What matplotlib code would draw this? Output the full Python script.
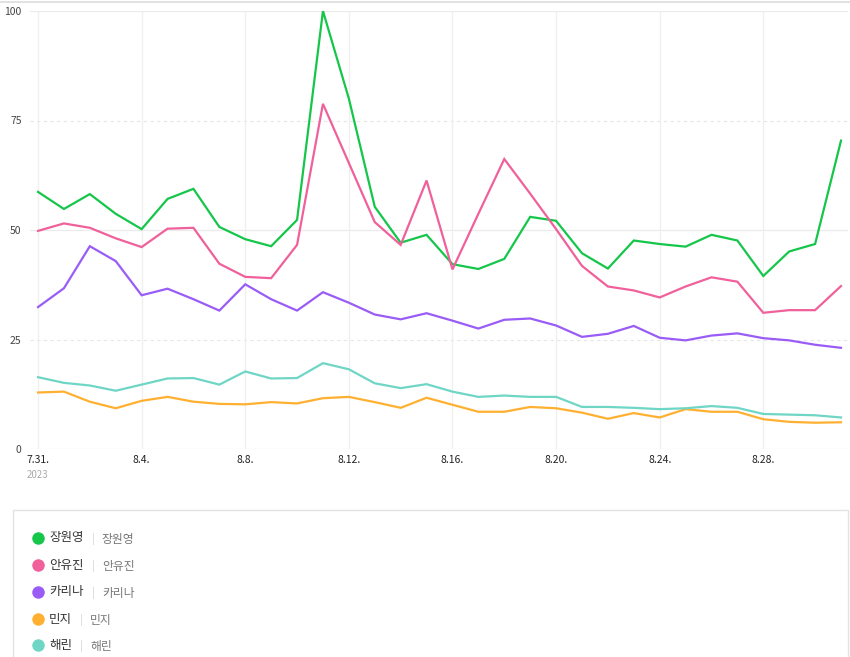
import matplotlib
matplotlib.use("Agg")
import matplotlib.pyplot as plt
import matplotlib.patches as mpatches
import numpy as np

plt.rcParams["font.family"] = ["Noto Sans CJK KR", "DejaVu Sans"]

# Dates 7.31 .. 8.31 (2023), one value per day
DAYS = ["7.31."] + [f"8.{d}." for d in range(1, 32)]
TICK_IDX = [0, 4, 8, 12, 16, 20, 24, 28]

NAMES = ["장원영", "안유진", "카리나", "민지", "해린"]
COLORS = ["#15c64a", "#f0609a", "#9a5cf6", "#ffb030", "#6fd6c6"]

wonyoung = [58.7, 54.8, 58.2, 53.7, 50.2, 57.1, 59.4, 50.7, 47.9, 46.3, 52.3,
            100.0, 80.0, 55.3, 47.1, 48.9, 42.2, 41.1, 43.4, 53.0, 52.1,
            44.7, 41.2, 47.6, 46.8, 46.2, 48.9, 47.6, 39.5, 45.1, 46.8, 70.4]
yujin = [49.8, 51.5, 50.5, 48.1, 46.1, 50.3, 50.5, 42.3, 39.3, 39.0, 46.6,
         78.8, 65.3, 51.8, 46.6, 61.3, 41.0, 53.7, 66.2, 58.3, 50.2,
         41.8, 37.1, 36.2, 34.6, 37.1, 39.2, 38.2, 31.1, 31.7, 31.7, 37.2]
karina = [32.4, 36.7, 46.3, 42.9, 35.1, 36.6, 34.2, 31.6, 37.6, 34.2, 31.6,
          35.8, 33.4, 30.7, 29.6, 31.0, 29.3, 27.5, 29.5, 29.8, 28.2,
          25.6, 26.3, 28.1, 25.4, 24.8, 25.9, 26.4, 25.3, 24.8, 23.8, 23.1]
minji = [12.9, 13.1, 10.8, 9.3, 11.0, 11.9, 10.8, 10.3, 10.2, 10.7, 10.4,
         11.6, 11.9, 10.7, 9.4, 11.7, 10.1, 8.5, 8.5, 9.6, 9.3,
         8.3, 6.9, 8.2, 7.2, 9.1, 8.5, 8.5, 6.8, 6.2, 6.0, 6.1]
haerin = [16.4, 15.1, 14.5, 13.3, 14.7, 16.1, 16.2, 14.7, 17.7, 16.1, 16.2,
          19.6, 18.2, 15.0, 13.9, 14.8, 13.1, 11.9, 12.2, 11.9, 11.9,
          9.6, 9.6, 9.4, 9.1, 9.3, 9.8, 9.4, 8.0, 7.85, 7.7, 7.2]

SERIES = [wonyoung, yujin, karina, minji, haerin]

W, H = 850, 657
fig = plt.figure(figsize=(W / 100, H / 100), dpi=100)
ax = fig.add_axes([30 / W, 1 - 449 / H, 818 / W, 438 / H])

x = np.arange(len(DAYS))
for vals, color in zip(SERIES, COLORS):
    ax.plot(x, vals, color=color, linewidth=1.6, solid_joinstyle="miter", zorder=3)

ax.set_xlim(-0.31, len(DAYS) - 1 + 0.27)
ax.set_ylim(0, 100)

# grid
for v in [0, 50, 100]:
    ax.axhline(v, color="#ebebeb", linewidth=0.9, zorder=1)
for v in [25, 75]:
    ax.axhline(v, color="#e6e6e6", linewidth=0.8, linestyle=(0, (3, 3)), zorder=1)
for i in TICK_IDX:
    ax.axvline(i, color="#efefef", linewidth=0.9, zorder=1)

ax.set_yticks([0, 25, 50, 75, 100])
ax.set_yticklabels(["0", "25", "50", "75", "100"], fontsize=7.5, color="#444444")
ax.set_xticks(TICK_IDX)
ax.set_xticklabels([DAYS[i] for i in TICK_IDX], fontsize=7.5, color="#222222")
ax.tick_params(length=0, pad=4)
ax.tick_params(axis="y", pad=6)
for s in ax.spines.values():
    s.set_visible(False)
ax.annotate("2023", xy=(0, 0), xycoords=("data", "axes fraction"),
            xytext=(0, -15), textcoords="offset points", ha="center", va="top",
            fontsize=7, color="#aaaaaa")

# legend area (pixel coordinates)
lax = fig.add_axes([0, 0, 1, 1], zorder=-1)
lax.set_xlim(0, W)
lax.set_ylim(H, 0)
lax.axis("off")
lax.plot([0, W], [1.5, 1.5], color="#dddddd", linewidth=1.2)
lax.add_patch(mpatches.Rectangle((13, 510), 835, 160, facecolor="white",
                                 edgecolor="#e3e3e3", linewidth=1.0))

lax2 = fig.add_axes([0, 0, 1, 1], zorder=5)
lax2.set_xlim(0, W)
lax2.set_ylim(H, 0)
lax2.axis("off")
row_y = [538, 565, 592, 619, 645]
for name, color, yy in zip(NAMES, COLORS, row_y):
    lax2.plot(38, yy, "o", markersize=9, color=color, markeredgewidth=0)
    t = lax2.text(49, yy, name, fontsize=9, color="#333333", va="center", ha="left")
    sep = lax2.annotate("|", xy=(1, 0.5), xycoords=t, xytext=(6, -1),
                        textcoords="offset points", va="center", ha="left",
                        fontsize=8, color="#d5d5d5")
    lax2.annotate(name, xy=(1, 0.5), xycoords=sep, xytext=(5, 0),
                  textcoords="offset points", va="center", ha="left",
                  fontsize=8.5, color="#777777")

fig.savefig("out.png", dpi=100)
